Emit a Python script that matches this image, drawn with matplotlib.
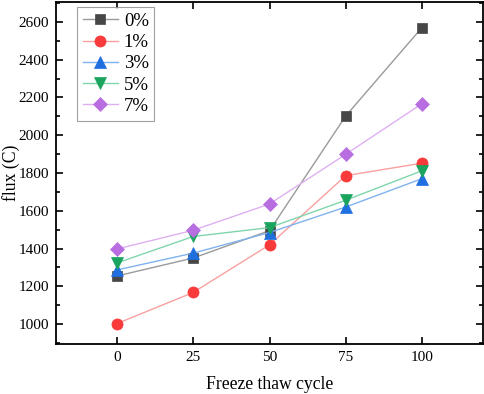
import matplotlib
matplotlib.use("Agg")
import matplotlib.pyplot as plt
from matplotlib.ticker import MultipleLocator

plt.rcParams['font.family'] = ['Liberation Serif', 'DejaVu Serif']

cycles = [0, 25, 50, 75, 100]
labels = ['0%', '1%', '3%', '5%', '7%']
flux = [
    [1255, 1350, 1495, 2102, 2570],
    [1003, 1168, 1420, 1786, 1852],
    [1287, 1376, 1485, 1620, 1770],
    [1324, 1464, 1511, 1656, 1812],
    [1398, 1497, 1636, 1899, 2167],
]
marker_colors = ['#474747', '#f83a3a', '#1f6fe0', '#1aa45e', '#b86ee0']
line_colors = ['#9a9a9a', '#f8a0a0', '#7fb2ef', '#7fd6ab', '#deb0f0']
markers = ['s', 'o', '^', 'v', 'D']
msizes = [7, 8, 8.5, 8.5, 7]

fig = plt.figure(figsize=(4.84, 3.94), dpi=100)
ax = fig.add_axes([56 / 484, 1 - 344 / 394, 427 / 484, 342 / 394])

for i in range(len(labels)):
    ax.plot(cycles, flux[i], color=line_colors[i], lw=1.0,
            marker=markers[i], markersize=msizes[i],
            markerfacecolor=marker_colors[i], markeredgecolor=marker_colors[i],
            markeredgewidth=0.5, label=labels[i])

ax.set_xlim(-20, 120)
ax.set_ylim(895, 2705)
ax.set_xticks(cycles)
ax.yaxis.set_major_locator(MultipleLocator(200))
ax.yaxis.set_minor_locator(MultipleLocator(100))
ax.tick_params(axis='both', which='both', direction='in', labelsize=11,
               width=1.2, top=True, right=True)
ax.tick_params(axis='both', which='major', length=5, pad=5)
ax.tick_params(axis='y', which='minor', length=3)
for s in ax.spines.values():
    s.set_linewidth(1.3)

ax.set_xlabel('Freeze thaw cycle', fontsize=12.7)
ax.set_ylabel('flux (C)', fontsize=12.7)
ax.xaxis.set_label_coords(0.5, -0.095)
ax.yaxis.set_label_coords(-0.084, 0.5)

leg = ax.legend(loc='upper left', bbox_to_anchor=(0.049, 0.985), fontsize=13.5,
                frameon=True, fancybox=False, edgecolor='#888888',
                handlelength=1.9, handletextpad=0.3, borderpad=0.3,
                labelspacing=0.22, borderaxespad=0)
leg.get_frame().set_linewidth(0.8)

fig.savefig('out.png', dpi=100)
